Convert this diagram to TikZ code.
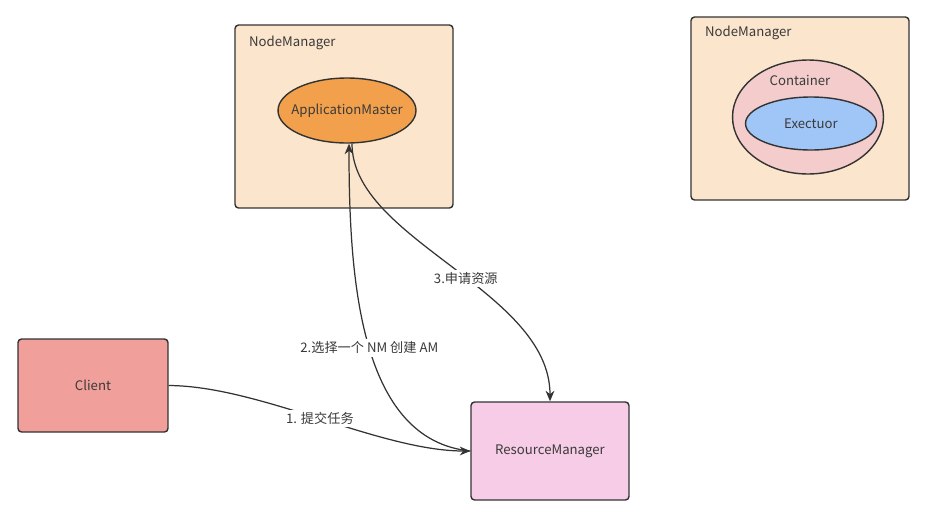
\documentclass[tikz,border=0pt]{standalone}
\usepackage{fontspec}
\setmainfont{Noto Sans CJK SC}
\usetikzlibrary{arrows.meta,shapes.geometric}
\definecolor{nmfill}{HTML}{FCE5CD}
\definecolor{amfill}{HTML}{F2A04C}
\definecolor{ctfill}{HTML}{F4CCCC}
\definecolor{exfill}{HTML}{A0C6F8}
\definecolor{clfill}{HTML}{F19F9A}
\definecolor{rmfill}{HTML}{F6CCE6}
\definecolor{linec}{HTML}{333333}
\definecolor{txtc}{HTML}{3A3A3A}
\begin{document}
\begin{tikzpicture}[x=0.02cm,y=-0.02cm,
    font=\fontsize{7.5}{9}\selectfont,text=txtc,
    box/.style={draw=linec,line width=0.8pt,rounded corners=2pt},
    oval/.style={ellipse,draw=linec,line width=0.8pt,inner sep=0pt},
    link/.style={draw=linec,line width=0.7pt,-{Stealth[length=6pt,width=5pt]}},
    lbl/.style={fill=white,inner sep=1.5pt}]
  \useasboundingbox (0,0) rectangle (925,521);
  % node managers
  \node[box,fill=nmfill,minimum width=4.36cm,minimum height=3.66cm] (nmleft) at (344,116.5) {};
  \node[anchor=west] (nmlefttxt) at (243,43) {NodeManager};
  \node[oval,fill=amfill,minimum width=2.76cm,minimum height=1.3cm] (am) at (347,110.5) {};
  \node (amtxt) at (am.center) {ApplicationMaster};
  \node[box,fill=nmfill,minimum width=4.36cm,minimum height=3.66cm] (nmright) at (800,108.5) {};
  \node[anchor=west] (nmrighttxt) at (699,33) {NodeManager};
  \node[oval,fill=ctfill,minimum width=3.02cm,minimum height=2.28cm] (ct) at (808,117) {};
  \node (cttxt) at (800,80) {Container};
  \node[oval,fill=exfill,minimum width=2.62cm,minimum height=1.06cm] (ex) at (811,123.5) {};
  \node (extxt) at (ex.center) {Exectuor};
  % client and resource manager
  \node[box,fill=clfill,minimum width=3cm,minimum height=1.86cm] (client) at (93,385.5) {Client};
  \node[box,fill=rmfill,minimum width=3.16cm,minimum height=1.96cm] (rm) at (550,451) {ResourceManager};
  % connectors
  \draw[link] (client.east) .. controls (260,386) and (380,451) .. (rm.west)
    node[lbl,pos=0.5] {1. 提交任务};
  \draw[link] (rm.west) .. controls (360,440) and (349,280) .. ([xshift=0.04cm]am.south)
    node[lbl,pos=0.49] {2.选择一个 NM 创建 AM};
  \draw[link] ([xshift=0.1cm]am.south) .. controls (352,240) and (550,290) .. (rm.north)
    node[lbl,pos=0.55] {3.申请资源};
\end{tikzpicture}
\end{document}
